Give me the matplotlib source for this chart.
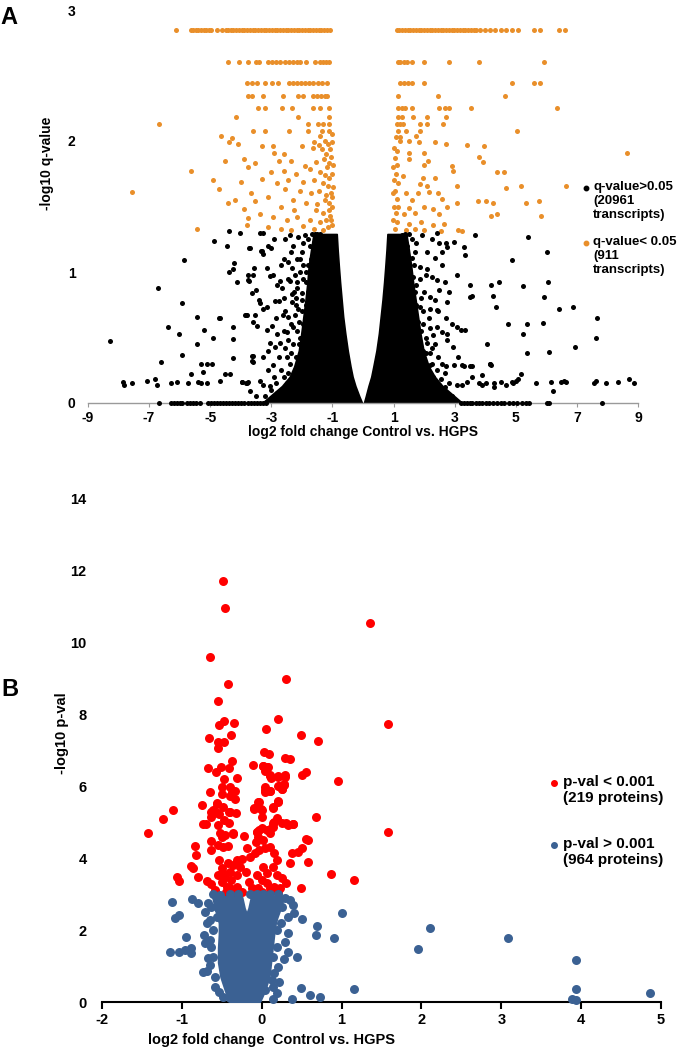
import numpy as np
import matplotlib
matplotlib.use("Agg")
import matplotlib.pyplot as plt

plt.rcParams["font.family"] = ["Liberation Sans", "DejaVu Sans"]
plt.rcParams["font.weight"] = "bold"
plt.rcParams["axes.unicode_minus"] = False

W, H = 679, 1048

# ---------------- Panel A : transcripts (q-value) ----------------
A_XTICKS = [-9, -7, -5, -3, -1, 1, 3, 5, 7, 9]
A_YTICKS = [0, 1, 2, 3]

# quantised q-value rows of significant transcripts (orange)
a_row_285_x = [-6.12, -5.63, -5.56, -5.48, -5.40, -5.31, -5.22, -5.14, -5.05, -4.96, -4.78,
               -4.62, -4.50, -4.42, -4.33, -4.24, -4.15, -4.06, -3.97, -3.88, -3.79, -3.70,
               -3.61, -3.52, -3.43, -3.34, -3.25, -3.16, -3.07, -2.98, -2.89, -2.80, -2.71,
               -2.62, -2.53, -2.44, -2.35, -2.26, -2.17, -2.08, -1.99, -1.90, -1.81, -1.72,
               -1.63, -1.54, -1.45, -1.36, -1.27, -1.18, -1.09,
               1.10, 1.19, 1.28, 1.37, 1.46, 1.55, 1.64, 1.73, 1.82, 1.91, 2.00, 2.09, 2.18,
               2.27, 2.36, 2.45, 2.54, 2.63, 2.72, 2.81, 2.90, 2.99, 3.08, 3.17, 3.26, 3.35,
               3.44, 3.53, 3.62, 3.71, 3.84, 4.00, 4.14, 4.33, 4.52, 4.69, 4.89, 5.08, 5.58,
               5.80, 6.42, 6.62]
a_row_260_x = [-4.42, -4.07, -3.77, -3.51, -3.41, -3.12, -2.99, -2.86, -2.73, -2.56, -2.43,
               -2.30, -2.17, -2.07, -1.88, -1.58, -1.42, -1.32, -1.22, -1.12,
               1.13, 1.22, 1.33, 1.45, 1.59, 1.98, 2.83, 3.81, 5.93]
a_row_244_x = [-3.80, -3.64, -3.48, -3.22, -2.99, -2.79, -2.43, -2.30, -2.17, -2.04, -1.91,
               -1.78, -1.65, -1.48, -1.35, -1.19, 1.20, 1.33, 1.46, 1.59, 2.01, 4.89, 5.61, 5.80]
a_row_234_x = [-3.77, -3.64, -3.28, -2.63, -2.14, -1.97, -1.65, -1.52, -1.38, -1.25, -1.19,
               1.13, 2.44, 4.66]
a_row_225_x = [-3.44, -3.22, -2.66, -2.33, -1.65, -1.42, -1.12,
               1.13, 1.26, 1.39, 1.59, 2.50, 2.67, 2.83, 3.55, 6.36]

a_orange_pts = [
    (-4.16, 2.18), (-2.14, 2.18), (-1.12, 2.18), (-1.81, 2.13), (-1.48, 2.13), (-1.30, 2.13),
    (-1.10, 2.13), (-6.68, 2.13), (-3.61, 2.08), (-3.22, 2.08), (-2.43, 2.08), (-1.81, 2.08),
    (-1.35, 2.08), (-1.12, 2.08), (-4.65, 2.04), (-4.29, 2.02), (-1.40, 2.04), (-1.25, 2.00),
    (-1.15, 1.98), (-4.39, 1.99), (-4.10, 1.98), (-1.60, 1.99), (-1.45, 1.97), (-3.31, 1.96),
    (-2.95, 1.96), (-2.00, 1.96), (-1.65, 1.95), (-1.35, 1.94), (-1.09, 1.94), (-2.90, 1.91),
    (-2.60, 1.90), (-1.20, 1.90), (-1.05, 1.88), (-4.52, 1.85), (-3.90, 1.86), (-3.55, 1.83),
    (-2.75, 1.85), (-2.35, 1.85), (-1.55, 1.84), (-1.28, 1.86), (-1.12, 1.83), (-3.75, 1.80),
    (-1.90, 1.81), (-1.75, 1.79), (-1.18, 1.80), (-5.63, 1.77), (-3.00, 1.76), (-2.60, 1.77),
    (-2.20, 1.75), (-1.40, 1.76), (-1.25, 1.74), (-1.10, 1.72), (-4.90, 1.70), (-4.00, 1.69),
    (-3.30, 1.71), (-2.80, 1.68), (-2.45, 1.70), (-1.95, 1.69), (-1.60, 1.70), (-1.30, 1.68),
    (-1.15, 1.66), (-7.56, 1.61), (-4.70, 1.63), (-3.65, 1.60), (-2.55, 1.63), (-2.05, 1.62),
    (-1.70, 1.60), (-1.45, 1.62), (-1.20, 1.59), (-1.05, 1.60), (-4.20, 1.55), (-3.55, 1.54),
    (-3.10, 1.57), (-2.30, 1.55), (-1.85, 1.53), (-1.50, 1.52), (-1.25, 1.55), (-1.10, 1.53),
    (-4.42, 1.53), (-3.90, 1.48), (-2.70, 1.50), (-2.25, 1.47), (-1.55, 1.47), (-1.30, 1.45),
    (-1.12, 1.47), (-3.77, 1.41), (-3.38, 1.44), (-2.95, 1.42), (-2.50, 1.40), (-2.15, 1.42),
    (-1.75, 1.40), (-1.40, 1.38), (-1.20, 1.40), (-1.05, 1.40), (-5.44, 1.33), (-3.80, 1.36),
    (-3.10, 1.34), (-2.70, 1.33), (-2.35, 1.32), (-1.95, 1.35), (-1.60, 1.33), (-1.30, 1.32),
    (-1.15, 1.34), (-1.02, 1.36), (-1.08, 1.43), (-1.00, 1.50), (-1.03, 1.57), (-0.98, 1.65),
    (-1.00, 1.75), (-0.98, 1.82), (-1.02, 1.99), (-1.00, 2.05),
    (1.13, 2.18), (1.26, 2.18), (1.62, 2.18), (2.11, 2.18), (2.73, 2.18), (1.10, 2.13),
    (1.20, 2.13), (1.30, 2.13), (1.87, 2.13), (2.11, 2.13), (2.63, 2.13), (1.13, 2.08),
    (1.42, 2.08), (1.87, 2.08), (5.05, 2.08), (1.08, 2.03), (1.20, 2.03), (1.75, 2.04),
    (1.20, 2.00), (1.50, 2.00), (1.82, 1.99), (2.37, 1.99), (2.73, 1.98), (3.39, 1.97),
    (3.97, 1.96), (1.10, 1.92), (1.50, 1.91), (2.00, 1.91), (3.81, 1.88), (8.65, 1.91),
    (1.05, 1.87), (1.52, 1.86), (2.14, 1.85), (3.94, 1.84), (1.12, 1.82), (2.00, 1.82),
    (2.90, 1.81), (2.93, 1.77), (4.37, 1.76), (4.63, 1.76), (1.08, 1.75), (1.30, 1.73),
    (1.95, 1.72), (2.35, 1.72), (1.15, 1.68), (1.85, 1.67), (2.10, 1.66), (3.06, 1.66),
    (6.65, 1.66), (5.18, 1.66), (4.69, 1.64), (1.05, 1.62), (1.40, 1.60), (1.80, 1.60),
    (2.15, 1.61), (2.45, 1.60), (1.10, 1.56), (1.60, 1.55), (2.60, 1.56), (3.06, 1.53),
    (3.75, 1.54), (4.04, 1.54), (4.24, 1.53), (5.35, 1.53), (5.77, 1.54), (1.15, 1.50),
    (1.50, 1.49), (2.00, 1.50), (2.30, 1.48), (2.75, 1.50), (1.07, 1.45), (1.35, 1.44),
    (1.70, 1.45), (2.50, 1.44), (4.20, 1.43), (4.40, 1.44), (5.84, 1.43), (1.12, 1.38),
    (1.50, 1.37), (1.90, 1.38), (2.30, 1.36), (2.65, 1.37), (1.05, 1.33), (1.40, 1.32),
    (1.70, 1.33), (2.00, 1.32), (3.10, 1.32), (3.25, 1.31), (2.55, 1.31), (0.98, 1.40),
    (1.00, 1.50), (0.97, 1.60), (1.00, 1.70), (0.98, 1.80), (1.02, 1.95)]

# non-significant transcripts (black) scattered outside the dense core
a_black_pts = [
    (-8.28, 0.47), (-7.86, 0.16), (-7.82, 0.14), (-7.56, 0.15), (-7.07, 0.17), (-6.80, 0.18),
    (-6.75, 0.14), (-6.71, 0.88), (-6.61, 0.31), (-6.39, 0.58), (-6.29, 0.15), (-6.09, 0.16),
    (-6.03, 0.53), (-5.93, 0.37), (-5.93, 0.76), (-5.86, 1.09), (-5.73, 0.15), (-5.63, 0.22),
    (-5.44, 0.66), (-5.44, 0.45), (-5.40, 0.16), (-5.30, 0.15), (-5.10, 0.15), (-5.31, 0.30),
    (-5.11, 0.30), (-4.95, 0.30), (-5.24, 0.24), (-5.20, 0.56), (-4.92, 0.50), (-4.88, 1.24),
    (-4.71, 0.65), (-4.69, 0.17), (-4.52, 0.22), (-4.36, 0.22), (-4.46, 1.20), (-4.39, 1.31),
    (-4.39, 1.00), (-4.26, 1.02), (-4.26, 0.58), (-4.26, 0.49), (-4.26, 0.34), (-4.23, 1.07),
    (-4.13, 0.92), (-4.03, 1.30), (-3.97, 0.16), (-3.84, 0.15), (-3.77, 0.16), (-3.84, 0.67),
    (-3.80, 0.67), (-3.77, 0.98), (-3.77, 0.94), (-3.74, 1.18), (-3.70, 0.09), (-3.64, 0.84),
    (-3.51, 0.86), (-3.64, 0.36), (-3.64, 0.32), (-3.58, 1.03), (-3.54, 0.67), (-3.48, 0.59),
    (-3.41, 0.79), (-3.38, 1.30), (-3.35, 1.16), (-3.28, 1.30), (-4.69, 0.65),
    (-3.70, 1.18), (-3.31, 1.16), (-3.12, 1.20), (-3.02, 1.18), (-3.28, 1.14), (-3.60, 0.98),
    (-3.74, 0.93), (-3.15, 1.03), (-3.05, 0.97), (-2.95, 0.98), (-2.73, 0.93), (-2.66, 0.88),
    (-2.80, 0.90), (-2.46, 1.08), (-2.33, 1.03), (-2.17, 1.10), (-2.07, 1.00), (-2.24, 0.98),
    (-2.40, 0.93), (-2.17, 0.88), (-2.00, 0.84), (-2.33, 0.83), (-3.38, 0.76), (-3.28, 0.72),
    (-3.15, 0.73), (-2.89, 0.78), (-3.87, 0.67), (-3.61, 0.62), (-2.63, 0.67), (-2.46, 0.66),
    (-2.24, 0.67), (-2.14, 0.72), (-2.33, 0.77), (-2.00, 0.79), (-2.99, 0.59), (-3.15, 0.56),
    (-2.83, 0.53), (-2.73, 0.46), (-3.05, 0.46), (-2.89, 0.43), (-2.50, 0.54), (-2.17, 0.55),
    (-2.07, 0.50), (-3.61, 0.36), (-3.61, 0.31), (-3.28, 0.35), (-2.95, 0.29), (-2.50, 0.35),
    (-2.46, 0.23), (-2.24, 0.25), (-2.07, 0.20), (-2.50, 0.15), (-2.66, 0.10), (-2.83, 0.08),
    (-3.97, 0.16), (-3.80, 0.15), (-3.38, 0.17), (-3.28, 0.14), (-3.05, 0.13), (-2.30, 1.20),
    (-2.55, 1.25), (-2.00, 1.15), (-1.90, 1.28), (-1.80, 1.05), (-1.85, 0.92), (-1.75, 1.20),
    (-1.66, 1.29), (-1.58, 1.29), (-1.50, 1.29), (-1.42, 1.29), (-1.95, 0.60), (-1.95, 0.40),
    (-2.20, 0.35), (-2.30, 0.45), (-2.60, 0.80), (-1.70, 1.10),
    (-2.90, 1.25), (-2.60, 1.10), (-2.45, 0.95), (-2.20, 0.75), (-2.10, 0.62), (-2.35, 0.60),
    (-2.55, 0.42), (-2.40, 0.30), (-2.15, 0.15), (-2.60, 0.20), (-2.90, 0.20), (-3.10, 0.25),
    (-2.75, 0.35), (-1.95, 1.22), (-2.05, 1.10), (-2.15, 0.92), (-2.25, 0.85), (-2.00, 0.70),
    (-2.10, 0.45), (-1.90, 0.35), (-2.05, 0.28), (-2.20, 0.10), (-2.40, 0.05), (-2.70, 0.05),
    (-3.00, 0.10), (-3.20, 0.05), (-3.50, 0.05), (-1.85, 1.00), (-1.80, 0.85), (-1.95, 0.95),
    (-2.35, 1.15), (-2.70, 1.05), (-2.85, 0.65), (-3.10, 0.40), (-2.60, 0.55), (-1.80, 1.25),
    (-1.62, 1.18), (-1.70, 0.98), (-1.88, 0.75), (-1.92, 0.52), (-2.00, 0.40), (-2.25, 0.20),
    (-2.12, 1.27), (-2.40, 1.28), (-1.98, 1.05), (-2.18, 0.80), (-2.28, 0.58), (-2.45, 0.48),
    (-2.35, 0.38), (-2.70, 0.25), (-2.85, 0.15), (-2.55, 0.70), (-2.75, 0.78),
    (5.41, 1.27), (6.03, 1.15), (4.86, 1.09), (6.07, 0.92), (5.25, 0.89), (5.93, 0.81),
    (6.42, 0.72), (6.88, 0.73), (7.67, 0.65), (4.73, 0.60), (5.38, 0.60), (5.90, 0.61),
    (5.22, 0.53), (7.63, 0.50), (4.07, 0.45), (6.95, 0.43), (5.38, 0.38), (6.10, 0.39),
    (4.20, 0.90), (4.46, 0.92), (4.24, 0.82), (4.36, 0.73), (3.49, 0.90), (3.49, 0.81),
    (3.58, 0.82), (3.68, 1.28), (3.32, 1.19), (3.35, 1.13), (3.22, 0.56), (3.35, 0.56),
    (3.06, 0.58), (2.76, 0.53), (4.20, 0.29), (4.17, 0.30), (3.32, 0.28), (3.58, 0.28),
    (5.18, 0.22), (4.86, 0.16), (5.02, 0.17), (5.08, 0.18), (4.90, 0.15), (5.67, 0.15),
    (6.16, 0.16), (6.49, 0.16), (6.58, 0.17), (6.65, 0.16), (6.23, 0.09), (7.57, 0.15),
    (7.63, 0.17), (7.96, 0.15), (8.35, 0.16), (8.71, 0.18), (8.88, 0.15), (3.78, 0.15),
    (3.91, 0.14), (4.04, 0.15), (4.30, 0.15), (4.53, 0.16), (4.69, 0.14),
    (1.29, 1.28), (1.75, 1.22), (1.92, 1.28), (2.41, 1.30), (2.50, 1.22), (2.73, 1.22),
    (2.99, 1.23), (2.60, 1.15), (2.76, 1.19), (1.59, 1.11), (1.85, 1.04), (1.62, 0.96),
    (2.11, 1.02), (2.27, 0.96), (2.34, 1.11), (2.41, 0.94), (2.50, 0.86), (2.67, 0.92),
    (2.83, 0.85), (3.09, 0.98), (1.52, 0.79), (1.85, 0.73), (2.18, 0.81), (2.34, 0.79),
    (2.41, 0.71), (2.76, 0.77), (1.69, 0.66), (1.95, 0.60), (2.18, 0.57), (2.41, 0.58),
    (2.60, 0.54), (1.62, 0.48), (1.75, 0.43), (2.08, 0.46), (2.27, 0.42), (2.76, 0.48),
    (2.93, 0.43), (1.75, 0.33), (1.85, 0.28), (2.18, 0.29), (2.41, 0.25), (2.67, 0.23),
    (2.73, 0.28), (2.99, 0.29), (2.01, 0.16), (2.50, 0.14), (2.67, 0.12), (3.06, 0.14),
    (3.25, 0.14), (2.41, 0.08), (2.18, 0.06), (3.39, 0.16), (3.58, 0.20), (3.91, 0.21),
    (4.30, 0.12), (4.17, 0.30), (3.25, 0.29), (3.51, 0.28), (1.36, 1.29), (1.45, 1.20),
    (1.50, 1.05), (1.70, 0.85), (1.90, 0.55), (2.05, 0.38), (2.30, 0.20), (-0.30, 0.08),
    (0.25, 0.07),
    (1.60, 1.25), (1.70, 1.15), (1.85, 0.95), (2.00, 0.85), (1.95, 0.70), (2.15, 0.65),
    (2.05, 0.50), (2.30, 0.52), (2.20, 0.38), (2.45, 0.35), (2.35, 0.12), (2.60, 0.30),
    (2.80, 0.15), (2.90, 0.05), (2.55, 0.05), (1.55, 1.00), (1.75, 0.90), (1.90, 0.80),
    (2.10, 1.15), (2.25, 1.25), (2.60, 1.05), (2.45, 0.70), (2.70, 0.65), (2.90, 0.60),
    (3.10, 0.35), (2.05, 0.22), (2.25, 0.30), (1.95, 0.40), (1.45, 1.12), (1.60, 0.88),
    (1.80, 0.62), (1.85, 0.45), (2.00, 0.30), (1.52, 1.29), (1.66, 1.05), (2.05, 0.98),
    (2.20, 0.72), (2.35, 0.45), (2.55, 0.18), (1.72, 0.75)]

# row of transcripts sitting on -log10 q = 0
a_zero_x = [-6.68, -6.29, -6.19, -6.09, -5.99, -5.93, -5.76, -5.66, -5.56, -5.45, -5.34,
            -5.08, -4.98, -4.88, -4.78, -4.68, -4.58, -4.48, -4.38, -4.28, -4.18, -4.08,
            -3.98, -3.88, -3.78, -3.68, -3.58, -3.48, -3.38, -3.28, -3.18,
            3.20, 3.30, 3.40, 3.50, 3.58, 3.70, 3.80, 3.90, 4.02, 4.12, 4.25, 4.38, 4.50,
            4.62, 4.78, 4.92, 5.05, 5.20, 5.32, 5.44, 6.03, 6.10, 7.83]

# envelope of the saturated (solid black) volcano core
a_core_y = [0.00, 0.05, 0.13, 0.20, 0.28, 0.40, 0.53, 0.66, 0.79, 0.92, 1.04, 1.17, 1.29]
a_core_left_outer = [-3.30, -3.05, -2.65, -2.40, -2.25, -2.10, -2.02, -1.95, -1.88, -1.82,
                     -1.78, -1.70, -1.62]
a_core_left_inner = [-0.03, -0.12, -0.25, -0.34, -0.41, -0.50, -0.58, -0.65, -0.70, -0.75,
                     -0.79, -0.83, -0.86]
a_core_right_inner = [0.03, 0.09, 0.18, 0.27, 0.34, 0.44, 0.52, 0.58, 0.64, 0.69, 0.73,
                      0.77, 0.80]
a_core_right_outer = [3.25, 3.00, 2.60, 2.35, 2.15, 1.98, 1.88, 1.80, 1.72, 1.64, 1.58,
                      1.50, 1.42]

# ---------------- Panel B : proteins (p-value) ----------------
B_XTICKS = [-2, -1, 0, 1, 2, 3, 4, 5]
B_YTICKS = [0, 2, 4, 6, 8, 10, 12, 14]

b_red_pts = [
    (-0.49, 11.69), (-0.46, 10.94), (-0.65, 9.58), (-0.42, 8.83), (-0.55, 8.36), (0.30, 8.97),
    (1.36, 10.53), (0.20, 7.86), (1.58, 7.72), (0.05, 7.58), (-0.47, 7.80), (-0.54, 7.69),
    (-0.35, 7.75), (-0.66, 7.33), (-0.55, 7.22), (-0.47, 7.22), (-0.55, 7.06), (-0.38, 7.42),
    (0.49, 7.42), (0.70, 7.25), (0.03, 6.94), (0.09, 6.89), (0.29, 6.78), (0.35, 6.75),
    (-0.67, 6.50), (-0.51, 6.53), (-0.41, 6.50), (-0.37, 6.69), (-0.11, 6.58), (0.01, 6.55),
    (0.08, 6.53), (0.95, 6.14), (0.04, 6.42), (0.10, 6.28), (0.12, 6.22), (-0.57, 6.40),
    (-0.47, 6.19), (-0.31, 6.22), (0.20, 6.25), (0.29, 6.25), (0.22, 6.00), (0.28, 6.03),
    (0.25, 5.92), (0.50, 6.31), (0.56, 6.39), (-0.50, 5.97), (-0.40, 5.97), (-0.37, 5.83),
    (-0.33, 5.86), (-0.40, 5.72), (-0.34, 5.64), (-0.65, 5.83), (-0.50, 5.78), (0.04, 5.97),
    (0.10, 5.86), (0.04, 5.83), (0.21, 5.56), (-0.75, 5.47), (-0.56, 5.50), (-0.61, 5.33),
    (-0.64, 5.28), (-0.53, 5.22), (-0.41, 5.28), (-0.32, 5.25), (-0.04, 5.56), (-0.10, 5.39),
    (0.00, 5.33), (0.14, 5.42), (0.00, 5.14), (-1.11, 5.33), (-1.24, 5.08), (-1.43, 4.69),
    (-0.74, 4.94), (-0.70, 4.94), (-0.55, 4.92), (-0.47, 5.06), (-0.41, 4.97), (-0.06, 4.72),
    (-0.04, 4.78), (0.06, 4.78), (0.13, 4.86), (0.15, 5.00), (0.31, 4.97), (0.39, 4.94),
    (0.68, 5.14), (-0.50, 4.58), (-0.36, 4.67), (0.56, 4.53), (-1.06, 3.47), (-1.03, 3.36),
    (-0.89, 3.78), (-0.86, 3.72), (-0.80, 3.47), (-0.84, 4.33), (-0.82, 4.08), (-0.64, 3.28),
    (-0.25, 3.97), (-0.18, 4.28), (-0.16, 3.33), (0.87, 3.56), (1.16, 3.39), (0.49, 3.17),
    (1.58, 4.72), (-0.63, 4.47), (-0.63, 4.22), (-0.55, 4.36), (-0.49, 4.31), (-0.42, 4.33),
    (-0.53, 3.94), (-0.50, 3.72), (-0.49, 3.58), (-0.55, 3.53), (-0.42, 3.86), (-0.36, 3.81),
    (-0.31, 3.94), (-0.27, 3.75), (-0.31, 3.53), (-0.38, 3.39), (-0.44, 3.19), (-0.31, 3.19),
    (-0.40, 3.61), (-0.50, 3.33), (-0.40, 3.17), (-0.46, 3.47), (-0.36, 3.11), (-0.52, 4.69),
    (-0.46, 4.64), (-0.36, 4.69), (-0.64, 5.14), (-0.55, 5.25), (-0.56, 5.53), (-0.49, 5.42),
    (-0.40, 5.28), (-0.10, 5.36), (-0.01, 5.36), (-0.05, 5.56), (0.14, 5.39), (0.20, 5.58),
    (-0.06, 4.72), (-0.05, 4.58), (0.00, 4.83), (-0.07, 4.44), (0.01, 4.50), (0.10, 4.69),
    (0.14, 4.97), (0.19, 5.11), (0.14, 4.86), (0.26, 4.97), (0.33, 4.92), (0.39, 4.94),
    (-0.15, 4.03), (-0.09, 4.14), (-0.04, 4.22), (0.04, 4.28), (0.10, 4.31), (0.16, 4.14),
    (0.19, 3.94), (0.14, 3.75), (0.01, 3.75), (-0.06, 3.53), (0.06, 3.58), (0.19, 3.53),
    (0.26, 3.44), (0.06, 3.31), (-0.05, 3.17), (0.16, 3.19), (0.23, 3.17), (0.10, 3.17),
    (0.00, 3.39), (-0.12, 3.17), (0.35, 3.86), (0.38, 4.14), (0.45, 4.17), (0.51, 4.28),
    (0.58, 3.89), (0.58, 4.50), (0.01, 6.56), (0.06, 6.53), (0.10, 6.31), (0.04, 5.89),
    (0.10, 5.86), (0.20, 6.28), (0.28, 6.06), (0.21, 6.00), (0.25, 5.92), (0.29, 6.31),
    (-0.45, 3.05), (-0.35, 3.05), (-0.25, 3.05), (0.00, 3.05), (0.10, 3.05), (0.20, 3.05),
    (-0.20, 3.60), (-0.22, 4.60), (0.30, 3.30), (-0.58, 3.10), (-0.68, 3.35)]

b_blue_pts = [
    (-1.12, 2.78), (-0.87, 2.86), (-1.09, 2.33), (-1.04, 2.42), (-0.95, 1.81), (-1.15, 1.39),
    (-1.04, 1.39), (-0.96, 1.44), (-0.88, 1.36), (-0.88, 1.50), (0.51, 2.30), (0.69, 2.11),
    (0.68, 1.86), (1.00, 2.47), (0.91, 1.78), (0.49, 0.39), (0.61, 0.19), (0.73, 0.14),
    (1.16, 0.36), (0.38, 0.08), (0.14, 0.08), (0.44, 1.25), (0.33, 1.39), (-0.74, 0.83),
    (-0.69, 0.86), (-0.67, 1.22), (2.11, 2.06), (1.96, 1.47), (3.08, 1.78), (3.93, 1.17),
    (3.93, 0.36), (3.88, 0.08), (3.93, 0.06), (4.86, 0.25), (-0.71, 1.64), (-0.72, 1.86),
    (-0.69, 2.19), (-0.65, 2.28), (-0.67, 2.75), (-0.71, 2.50), (-0.61, 3.00), (-0.52, 2.97),
    (-0.40, 3.00), (-0.30, 3.00), (-0.15, 3.00), (-0.06, 3.00), (0.01, 3.00), (0.10, 3.00),
    (0.20, 3.00), (0.29, 2.89), (0.35, 2.83), (0.39, 2.69), (0.41, 2.47), (0.33, 2.36),
    (0.29, 1.67), (0.33, 1.92), (0.19, 2.00), (0.19, 1.53), (0.14, 1.25), (0.20, 0.97),
    (0.16, 0.81), (0.13, 0.61), (0.14, 0.42), (0.19, 0.25), (0.04, 0.33), (-0.65, 1.03),
    (-0.59, 0.69), (-0.59, 0.42), (-0.53, 0.28), (-0.49, 0.14), (-0.40, 0.11), (-0.61, 1.25),
    (-0.63, 1.53), (-0.65, 1.72), (-0.61, 2.00), (-0.56, 2.36), (-0.55, 2.61), (-0.63, 2.64),
    (-0.80, 2.75), (0.25, 2.65), (0.24, 2.20), (0.28, 1.20), (0.22, 0.55)]

# envelope of the saturated blue core (split by the notch below p = 0.001)
b_core_y = [0.00, 0.30, 0.70, 1.10, 1.50, 1.90, 2.20, 2.36, 2.60, 2.90]
b_core_left = [-0.38, -0.44, -0.50, -0.53, -0.53, -0.52, -0.52, -0.54, -0.57, -0.60]
b_notch_left = [-0.19, -0.19, -0.19, -0.19, -0.19, -0.19, -0.19, -0.19, -0.23, -0.26]
b_notch_right = [-0.19, -0.19, -0.19, -0.19, -0.19, -0.19, -0.19, -0.19, -0.15, -0.12]
b_core_right = [-0.04, 0.02, 0.08, 0.10, 0.12, 0.14, 0.16, 0.18, 0.22, 0.26]

ORANGE = "#E98F2A"
RED = "#FF0000"
BLUE = "#3B6193"


def fx(px):
    return px / W


def fy(py):
    return 1 - py / H


fig = plt.figure(figsize=(W / 100, H / 100), dpi=100)

# ---------- panel A ----------
ax = fig.add_axes([fx(88), fy(403), (638 - 88) / W, (403 - 10) / H])
sa = 13
for xs, yv in [(a_row_285_x, 2.85), (a_row_260_x, 2.60), (a_row_244_x, 2.44),
               (a_row_234_x, 2.34), (a_row_225_x, 2.25)]:
    ax.scatter(xs, [yv] * len(xs), s=sa, color=ORANGE, lw=0, clip_on=False)
ox, oy = np.array(a_orange_pts).T
ax.scatter(ox, oy, s=sa, color=ORANGE, lw=0)

ax.fill_betweenx(a_core_y, a_core_left_outer, a_core_left_inner, color="black", lw=1.2)
ax.fill_betweenx(a_core_y, a_core_right_inner, a_core_right_outer, color="black", lw=1.2)
bx, by = np.array(a_black_pts).T
ax.scatter(bx, by, s=sa, color="black", lw=0, clip_on=False)
ax.scatter(a_zero_x, [0] * len(a_zero_x), s=sa, color="black", lw=0, clip_on=False, zorder=3)

ax.set_xlim(-9, 9)
ax.set_ylim(0, 3)
for sp in ["top", "right", "left"]:
    ax.spines[sp].set_visible(False)
ax.spines["bottom"].set_color("#9a9a9a")
ax.spines["bottom"].set_linewidth(1.0)
ax.set_xticks(A_XTICKS)
ax.set_yticks(A_YTICKS)
ax.tick_params(axis="x", length=3, color="#9a9a9a", labelsize=10, pad=3)
ax.tick_params(axis="y", length=0, labelsize=10, pad=9)
for lab in ax.get_xticklabels() + ax.get_yticklabels():
    lab.set_fontweight("bold")

fig.text(fx(363), fy(432), "log2 fold change Control vs. HGPS", ha="center", va="center",
         fontsize=10, fontweight="bold")
fig.text(fx(47), fy(163), "-log10 q-value", ha="center", va="center", rotation=90,
         fontsize=10, fontweight="bold")
fig.text(fx(0), fy(18), "A", ha="left", va="center", fontsize=17, fontweight="bold")

ax.plot([fx(586)], [fy(188)], marker="o", ms=3.2, color="black", transform=fig.transFigure,
        clip_on=False)
fig.text(fx(593), fy(181), "q-value>0.05\n(20961\ntranscripts)", ha="left", va="top",
         fontsize=9.5, fontweight="bold", linespacing=1.25)
ax.plot([fx(586)], [fy(243)], marker="o", ms=3.2, color=ORANGE, transform=fig.transFigure,
        clip_on=False)
fig.text(fx(593), fy(236), "q-value< 0.05\n(911\ntranscripts)", ha="left", va="top",
         fontsize=9.5, fontweight="bold", linespacing=1.25)

# ---------- panel B ----------
bx_ax = fig.add_axes([fx(102), fy(1002), (661 - 102) / W, (1002 - 498) / H])
sb = 42
rx, ry = np.array(b_red_pts).T
bx_ax.scatter(rx, ry, s=sb, color=RED, lw=0)
bx_ax.fill_betweenx(b_core_y, b_core_left, b_notch_left, color=BLUE, lw=3)
bx_ax.fill_betweenx(b_core_y, b_notch_right, b_core_right, color=BLUE, lw=3)
ux, uy = np.array(b_blue_pts).T
bx_ax.scatter(ux, uy, s=sb, color=BLUE, lw=0, clip_on=False)

bx_ax.set_xlim(-2, 5)
bx_ax.set_ylim(0, 14)
for sp in ["top", "right", "left"]:
    bx_ax.spines[sp].set_visible(False)
bx_ax.spines["bottom"].set_linewidth(1.5)
bx_ax.spines["bottom"].set_zorder(0.5)
bx_ax.set_xticks(B_XTICKS)
bx_ax.set_yticks(B_YTICKS)
bx_ax.tick_params(axis="x", length=5, width=1.5, labelsize=10.5, pad=3)
bx_ax.tick_params(axis="y", length=0, labelsize=10.5, pad=11)
for lab in bx_ax.get_xticklabels() + bx_ax.get_yticklabels():
    lab.set_fontweight("bold")

fig.text(fx(271), fy(1040), "log2 fold change  Control vs. HGPS", ha="center", va="center",
         fontsize=10.5, fontweight="bold")
fig.text(fx(62), fy(733), "-log10 p-val", ha="center", va="center", rotation=90,
         fontsize=10.5, fontweight="bold")
fig.text(fx(1), fy(689), "B", ha="left", va="center", fontsize=17, fontweight="bold")

bx_ax.plot([fx(554)], [fy(783)], marker="o", ms=4, color=RED, transform=fig.transFigure,
           clip_on=False)
fig.text(fx(563), fy(775), "p-val < 0.001\n(219 proteins)", ha="left", va="top",
         fontsize=11, fontweight="bold", linespacing=1.2)
bx_ax.plot([fx(554)], [fy(845)], marker="o", ms=4, color=BLUE, transform=fig.transFigure,
           clip_on=False)
fig.text(fx(563), fy(837), "p-val > 0.001\n(964 proteins)", ha="left", va="top",
         fontsize=11, fontweight="bold", linespacing=1.2)

fig.savefig("out.png", dpi=100)
